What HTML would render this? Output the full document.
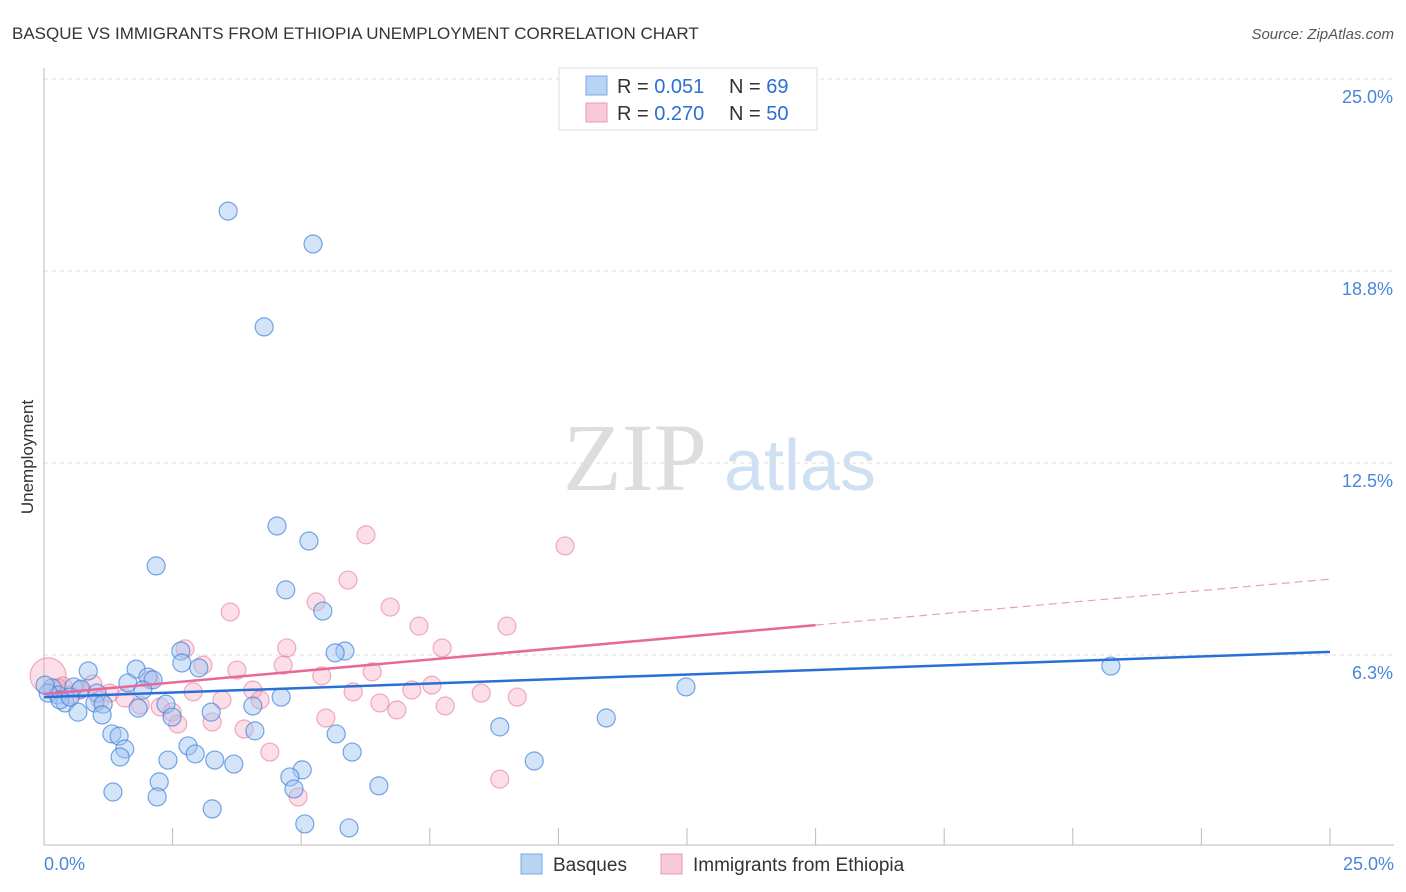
<!DOCTYPE html>
<html><head><meta charset="utf-8"><style>
body{margin:0;background:#fff;font-family:"Liberation Sans",sans-serif;}
svg{display:block}
</style></head><body>
<svg id="chart" width="1406" height="892" xmlns="http://www.w3.org/2000/svg" font-family="Liberation Sans, sans-serif">
<text x="12" y="39" font-size="17" fill="#333">BASQUE VS IMMIGRANTS FROM ETHIOPIA UNEMPLOYMENT CORRELATION CHART</text>
<text x="1394" y="39" font-size="15" fill="#555" text-anchor="end" font-style="italic">Source: ZipAtlas.com</text>
<text transform="translate(33,457) rotate(-90)" font-size="17" fill="#333" text-anchor="middle">Unemployment</text>
<g>
<text x="635" y="490" font-size="96" fill="#ddd" text-anchor="middle" font-family="Liberation Serif, serif">ZIP</text>
<text x="800" y="490" font-size="72" fill="#cfe0f3" text-anchor="middle">atlas</text>
</g>
<g id="grid"></g>
<g id="axes"></g>
<g id="pts"></g>
<g id="trend"></g>
<g>
<rect x="559" y="68" width="258" height="62" fill="#fff" stroke="#ddd"/>
<rect x="586" y="76" width="21" height="19" fill="#b9d3f3" stroke="#7aa8e4"/>
<rect x="586" y="103" width="21" height="19" fill="#f8c9d6" stroke="#eb9ab3"/>
<text x="617" y="93" font-size="20" fill="#333">R = <tspan fill="#2a6fd6">0.051</tspan></text>
<text x="729" y="93" font-size="20" fill="#333">N = <tspan fill="#2a6fd6"> 69</tspan></text>
<text x="617" y="120" font-size="20" fill="#333">R = <tspan fill="#2a6fd6">0.270</tspan></text>
<text x="729" y="120" font-size="20" fill="#333">N = <tspan fill="#2a6fd6">50</tspan></text>
</g>
<g>
<rect x="521" y="854" width="21" height="20" fill="#b9d3f3" stroke="#7aa8e4"/>
<text x="553" y="871" font-size="19" fill="#333">Basques</text>
<rect x="661" y="854" width="21" height="20" fill="#f8c9d6" stroke="#eb9ab3"/>
<text x="693" y="871" font-size="19" fill="#333">Immigrants from Ethiopia</text>
</g>
<text x="44" y="870" font-size="18" fill="#4a86d8">0.0%</text>
<text x="1394" y="870" font-size="18" fill="#4a86d8" text-anchor="end">25.0%</text>
</svg>
<script>
const yTicks=[25,18.75,12.5,6.25];
const yTickLabels=["25.0%","18.8%","12.5%","6.3%"];
const xTicks=[2.5,5,7.5,10,12.5,15,17.5,20,22.5,25];
const basqueX=[3.58,5.23,4.28,4.53,5.15,2.18,4.70,5.42,2.66,5.85,5.66,2.68,3.01,1.79,0.86,2.02,2.12,1.63,0.58,0.16,0.72,1.92,1.03,4.61,0.27,0.41,0.99,1.15,2.37,4.06,1.83,0.66,3.25,1.13,2.49,4.10,1.32,1.46,5.68,2.80,1.57,2.94,5.99,1.48,2.41,3.32,3.69,5.02,4.78,2.24,4.86,6.51,1.34,2.20,3.27,5.07,5.93,12.48,20.74,10.93,8.86,9.53,0.08,0.31,0.51,0.02];
const basqueY=[20.70,19.63,16.93,10.45,9.96,9.15,8.37,7.68,6.38,6.38,6.32,5.99,5.83,5.79,5.73,5.53,5.44,5.34,5.21,5.18,5.14,5.11,5.01,4.88,4.95,4.69,4.69,4.65,4.65,4.59,4.52,4.39,4.39,4.30,4.23,3.78,3.68,3.61,3.68,3.29,3.19,3.03,3.09,2.93,2.83,2.83,2.70,2.51,2.28,2.12,1.89,1.99,1.79,1.63,1.24,0.75,0.62,5.21,5.89,4.20,3.91,2.80,5.01,4.79,4.88,5.27];
const ethX=[0.08,6.26,10.13,5.91,3.62,5.29,6.73,7.29,9.00,2.74,4.72,7.74,3.09,3.75,4.65,5.40,6.38,0.95,0.27,1.28,2.90,4.06,7.54,7.15,6.01,8.50,9.20,3.46,4.20,1.57,6.53,6.86,7.80,2.26,2.49,2.60,3.27,3.89,5.48,4.39,8.86,4.94,0.37,0.70,1.87,2.06,1.09,0.51];
const ethY=[5.57,10.16,9.80,8.69,7.65,7.98,7.81,7.19,7.19,6.45,6.48,6.48,5.92,5.76,5.92,5.57,5.70,5.31,5.18,5.01,5.05,5.11,5.27,5.11,5.05,5.01,4.88,4.79,4.79,4.85,4.69,4.46,4.59,4.56,4.39,4.00,4.07,3.84,4.20,3.09,2.21,1.63,5.24,5.11,4.62,5.44,4.79,4.95];
const basqueTrend=[4.88,6.35];   // value at x=0, x=25
const ethTrend=[4.98,8.72];      // value at x=0, x=25
const ethSolidEnd=15;

const NS="http://www.w3.org/2000/svg";
const X0=44,X1=1330,Y0=847,PXY=30.72;
const sx=v=>X0+(X1-X0)*v/25;
const sy=v=>Y0-v*PXY;
function mk(tag,attrs,parent){const e=document.createElementNS(NS,tag);for(const k in attrs)e.setAttribute(k,attrs[k]);parent.appendChild(e);return e;}
const grid=document.getElementById('grid'),axes=document.getElementById('axes'),pts=document.getElementById('pts'),trend=document.getElementById('trend');
yTicks.forEach((t,i)=>{
  const l=mk('line',{x1:X0,x2:1394,y1:sy(t),y2:sy(t),stroke:'#ddd','stroke-dasharray':'4,4'},grid);
  
  
  const tx=mk('text',{x:1393,y:sy(t)+24,'font-size':18,fill:'#4a86d8','text-anchor':'end'},grid);
  
  
  tx.textContent=yTickLabels[i];
});
const xa=mk('line',{x1:X0,x2:1394,y1:845,y2:845,stroke:'#bbb'},axes);


const ya=mk('line',{x1:X0,x2:X0,y1:68,y2:845,stroke:'#bbb'},axes);


xTicks.forEach(t=>{
  const l=mk('line',{x1:sx(t),x2:sx(t),y1:828,y2:845,stroke:'#bbb'},axes);
  
  
});
ethX.forEach((x,i)=>{
  const c=mk('circle',{cx:sx(x),cy:sy(ethY[i]),r:i===0?18:9,fill:'rgba(244,160,186,0.35)',stroke:'rgba(232,120,155,0.6)','stroke-width':1.2},pts);
  
  
});
basqueX.forEach((x,i)=>{
  const c=mk('circle',{cx:sx(x),cy:sy(basqueY[i]),r:9,fill:'rgba(160,196,240,0.45)',stroke:'rgba(60,130,220,0.7)','stroke-width':1.2},pts);
  
  
});
const ev=x=>ethTrend[0]+(ethTrend[1]-ethTrend[0])*x/25;
const bt=mk('line',{x1:sx(0),y1:sy(basqueTrend[0]),x2:sx(25),y2:sy(basqueTrend[1]),stroke:'#2a6fd6','stroke-width':2.5},trend);


const et=mk('line',{x1:sx(0),y1:sy(ev(0)),x2:sx(ethSolidEnd),y2:sy(ev(ethSolidEnd)),stroke:'#e8689a','stroke-width':2.5},trend);


const ed=mk('line',{x1:sx(ethSolidEnd),y1:sy(ev(ethSolidEnd)),x2:sx(25),y2:sy(ev(25)),stroke:'#e8a0b8','stroke-width':1.2,'stroke-dasharray':'8,5'},trend);


</script>
</body></html>
